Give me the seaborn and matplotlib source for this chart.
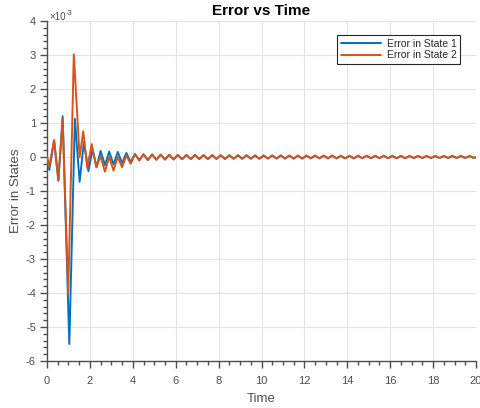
import numpy as np
import pandas as pd
import matplotlib
matplotlib.use("Agg")
import matplotlib.pyplot as plt
import seaborn as sns
from matplotlib.ticker import MultipleLocator, FuncFormatter

# ---- data (values in units of 1e-3) ----
s1_time = [0.0, 0.11, 0.33, 0.53, 0.73, 1.04, 1.30, 1.52, 1.72, 1.93, 2.12,
           2.31, 2.50, 2.70, 2.90, 3.10, 3.30, 3.50, 3.70, 3.90]
s1_err = [0.0, -0.38, 0.48, -0.70, 1.20, -5.50, 1.12, -0.73, 0.45, -0.42, 0.22,
          -0.30, 0.18, -0.24, 0.16, -0.22, 0.15, -0.18, 0.12, -0.15]

s2_time = [0.0, 0.10, 0.33, 0.53, 0.73, 0.99, 1.25, 1.52, 1.69, 1.88, 2.08,
           2.30, 2.50, 2.70, 2.90, 3.10, 3.30, 3.50, 3.70, 3.90]
s2_err = [0.0, -0.30, 0.50, -0.66, 1.10, -4.00, 3.02, 0.00, 0.76, -0.33, 0.38,
          -0.30, 0.02, -0.43, 0.00, -0.40, 0.00, -0.30, 0.05, -0.20]

# shared tail (both states overlap after t ~ 4)
tail_time = [4.1, 4.3, 4.5, 4.7, 4.9, 5.1, 5.3, 5.5, 5.7, 5.9,
             6.1, 6.3, 6.5, 6.7, 6.9, 7.1, 7.3, 7.5, 7.7, 7.9,
             8.1, 8.3, 8.5, 8.7, 8.9, 9.1, 9.3, 9.5, 9.7, 9.9,
             10.1, 10.3, 10.5, 10.7, 10.9, 11.1, 11.3, 11.5, 11.7, 11.9,
             12.1, 12.3, 12.5, 12.7, 12.9, 13.1, 13.3, 13.5, 13.7, 13.9,
             14.1, 14.3, 14.5, 14.7, 14.9, 15.1, 15.3, 15.5, 15.7, 15.9,
             16.1, 16.3, 16.5, 16.7, 16.9, 17.1, 17.3, 17.5, 17.7, 17.9,
             18.1, 18.3, 18.5, 18.7, 18.9, 19.1, 19.3, 19.5, 19.7, 19.9, 20.0]
tail_err = [0.09, -0.10, 0.08, -0.09, 0.075, -0.08, 0.07, -0.075, 0.065, -0.07,
            0.06, -0.065, 0.06, -0.06, 0.06, -0.06, 0.055, -0.06, 0.055, -0.055,
            0.05, -0.055, 0.05, -0.05, 0.05, -0.05, 0.05, -0.05, 0.045, -0.05,
            0.045, -0.045, 0.045, -0.045, 0.045, -0.045, 0.04, -0.045, 0.04, -0.045,
            0.04, -0.04, 0.04, -0.04, 0.04, -0.04, 0.04, -0.04, 0.035, -0.04,
            0.035, -0.04, 0.035, -0.035, 0.035, -0.035, 0.035, -0.035, 0.035, -0.035,
            0.03, -0.035, 0.03, -0.035, 0.03, -0.03, 0.03, -0.03, 0.03, -0.03,
            0.03, -0.03, 0.03, -0.03, 0.03, -0.03, 0.03, -0.03, 0.03, -0.03, 0.0]

series_names = ["Error in State 1", "Error in State 2"]
colors = ["#0072BD", "#D95319"]

x_ticks = [0, 2, 4, 6, 8, 10, 12, 14, 16, 18, 20]
y_ticks = [-6, -5, -4, -3, -2, -1, 0, 1, 2, 3, 4]

# ---- build frame ----
frames = []
for name, t, v in [(series_names[0], s1_time, s1_err), (series_names[1], s2_time, s2_err)]:
    tt = list(t) + tail_time
    vv = np.array(list(v) + tail_err) * 1e-3
    frames.append(pd.DataFrame({"Time": tt, "Error": vv, "Series": name}))
df = pd.concat(frames, ignore_index=True)

sns.set_style("white")
plt.rcParams["font.family"] = ["Liberation Sans", "DejaVu Sans"]
plt.rcParams["axes.unicode_minus"] = False

fig = plt.figure(figsize=(4.8, 4.08), dpi=100)
ax = fig.add_axes([47 / 480, 1 - 361 / 408, 429 / 480, 340 / 408])

sns.lineplot(data=df, x="Time", y="Error", hue="Series", palette=colors,
             estimator=None, sort=False, linewidth=1.4, ax=ax, zorder=3)

tc = "#4d4d4d"
ax.set_xlim(0, 20)
ax.set_ylim(y_ticks[0] * 1e-3, y_ticks[-1] * 1e-3)
ax.set_xticks(x_ticks)
ax.set_yticks(np.array(y_ticks) * 1e-3)
ax.xaxis.set_minor_locator(MultipleLocator(0.5))
ax.yaxis.set_minor_locator(MultipleLocator(0.2e-3))
ax.yaxis.set_major_formatter(FuncFormatter(lambda v, p: f"{round(v * 1e3):d}"))

# exponent label like MATLAB
fig.text(49 / 480, 1 - 22 / 408, "×10", fontsize=7, color=tc, ha="left", va="bottom")
fig.text(66 / 480, 1 - 17 / 408, "-3", fontsize=5.5, color=tc, ha="left", va="bottom")

ax.tick_params(axis="both", which="both", bottom=True, left=True, top=False, right=False)
ax.tick_params(axis="both", which="major", direction="out", length=5, width=1,
               colors=tc, labelsize=8, pad=3)
ax.tick_params(axis="x", which="major", pad=6)
ax.tick_params(axis="both", which="minor", direction="out", length=3, width=1, colors=tc)

for s in ["top", "right"]:
    ax.spines[s].set_visible(False)
for s in ["left", "bottom"]:
    ax.spines[s].set_color(tc)
    ax.spines[s].set_linewidth(1)

ax.grid(True, which="major", color="#e3e3e3", linewidth=0.8)
ax.set_axisbelow(True)

ax.set_title("Error vs Time", fontsize=11, fontweight="bold", color="black", pad=4)
ax.set_xlabel("Time", fontsize=9.5, color=tc, labelpad=5)
ax.set_ylabel("Error in States", fontsize=9.5, color=tc, labelpad=3)

leg = ax.legend(loc="upper right", bbox_to_anchor=(0.963, 0.959), borderaxespad=0,
                fontsize=7.5, handlelength=3.9, frameon=True, fancybox=False,
                edgecolor="#262626", framealpha=1, borderpad=0.35, labelspacing=0.15,
                handletextpad=0.5)
leg.get_frame().set_linewidth(0.8)
for t in leg.get_texts():
    t.set_color("#262626")

fig.savefig("out.png", dpi=100)
